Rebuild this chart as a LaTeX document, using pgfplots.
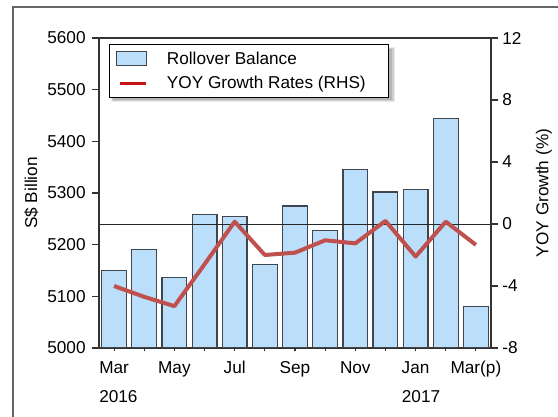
\documentclass[border=0pt]{standalone}
\usepackage{fontspec}
\setmainfont{Liberation Sans}
\usepackage{pgfplots}
\pgfplotsset{compat=1.18}

\definecolor{barblue}{RGB}{187,223,251}
\definecolor{baredge}{RGB}{64,70,78}
\definecolor{linered}{RGB}{192,80,77}
\definecolor{legred}{RGB}{200,20,20}

\pgfplotstableread{
x  bal   yoy
0  5150  -4.0
1  5190  -4.7
2  5137  -5.3
3  5258  -2.6
4  5254   0.15
5  5162  -2.0
6  5275  -1.85
7  5227  -1.05
8  5346  -1.25
9  5302   0.2
10 5306  -2.1
11 5444   0.15
12 5080  -1.35
}\datatable

\newcommand{\lbl}{\fontsize{12.9}{15}\selectfont}

\begin{document}
\begin{tikzpicture}[font=\lbl]
% outer frame (cut at right and bottom like the reference)
\draw[black!60, line width=0.9pt] (-64.5pt,-90pt) -- (-64.5pt,255.75pt) -- (400pt,255.75pt);
% soft shadow behind the legend
\fill[black, opacity=0.08] (9pt,184.5pt) rectangle (222pt,226pt);
\fill[black, opacity=0.12] (9.8pt,185.3pt) rectangle (221pt,225.2pt);
\fill[black, opacity=0.12] (10.5pt,186pt) rectangle (220pt,224.5pt);

\begin{axis}[
  at={(0pt,0pt)}, anchor=south west,
  scale only axis, width=294pt, height=232.5pt,
  xmin=-0.5, xmax=12.5,
  ymin=5000, ymax=5600,
  ytick={5000,5100,...,5600},
  xtick={0,...,12},
  xticklabels={Mar,,May,,Jul,,Sep,,Nov,,Jan,,Mar(p)},
  xtick pos=bottom, ytick pos=left,
  axis line style={black!80, line width=0.9pt},
  every tick/.style={black!80, line width=0.8pt},
  y tick style={/pgfplots/tick align=outside},
  x tick style={/pgfplots/tick align=center},
  major tick length=5pt,
  tick label style={font=\lbl},
  yticklabel style={xshift=-6.5pt},
  xticklabel style={yshift=-1.5pt},
  /pgf/number format/assume math mode=true,
  /pgf/number format/1000 sep={},
  ylabel={S\$ Billion},
  ylabel style={font=\lbl},
  legend style={at={(rel axis cs:0.026,0.98)}, anchor=north west,
    draw=black, fill=white, line width=0.8pt,
    font=\lbl, inner xsep=5pt, inner ysep=3.2pt, row sep=3.5pt},
  /tikz/every odd column/.append style={column sep=12.5pt},
  legend cell align=left,
  ybar, bar width=0.82,
]
\addplot[fill=barblue, draw=baredge, line width=0.9pt,
  legend image code/.code={\draw[fill=barblue, draw=baredge, line width=0.8pt] (0pt,-5.25pt) rectangle (22pt,5.25pt);}]
  table[x=x, y=bal]{\datatable};
\addlegendentry{Rollover Balance}
\addlegendimage{legend image code/.code={\draw[legred, line width=2pt] (2pt,0pt) -- (22pt,0pt);}}
\addlegendentry{YOY Growth Rates (RHS)\hspace*{10pt}}
\end{axis}

\begin{axis}[
  at={(0pt,0pt)}, anchor=south west,
  scale only axis, width=294pt, height=232.5pt,
  xmin=-0.5, xmax=12.5,
  ymin=-8, ymax=12,
  ytick={-8,-4,0,4,8,12},
  axis x line=none,
  axis y line*=right,
  axis line style={black!80, line width=0.9pt, -},
  every tick/.style={black!80, line width=0.8pt},
  tick align=outside,
  major tick length=5pt,
  tick label style={font=\lbl},
  /pgf/number format/assume math mode=true,
  extra y ticks={0}, extra y tick labels={},
  extra y tick style={grid=major, major grid style={black!85, line width=0.6pt}},
  ylabel={YOY Growth (\%)},
  ylabel style={font=\lbl},
  ylabel shift=-6pt,
]
\addplot[linered, line width=3pt, line join=round, mark=none]
  table[x=x, y=yoy]{\datatable};
\end{axis}

\node[anchor=base west, inner sep=0pt] at (0pt,-41.25pt) {2016};
\node[anchor=base west, inner sep=0pt] at (227pt,-41.25pt) {2017};

\pgfresetboundingbox
\useasboundingbox (-74.25pt,-51.75pt) rectangle (344.25pt,261pt);
\end{tikzpicture}
\end{document}
